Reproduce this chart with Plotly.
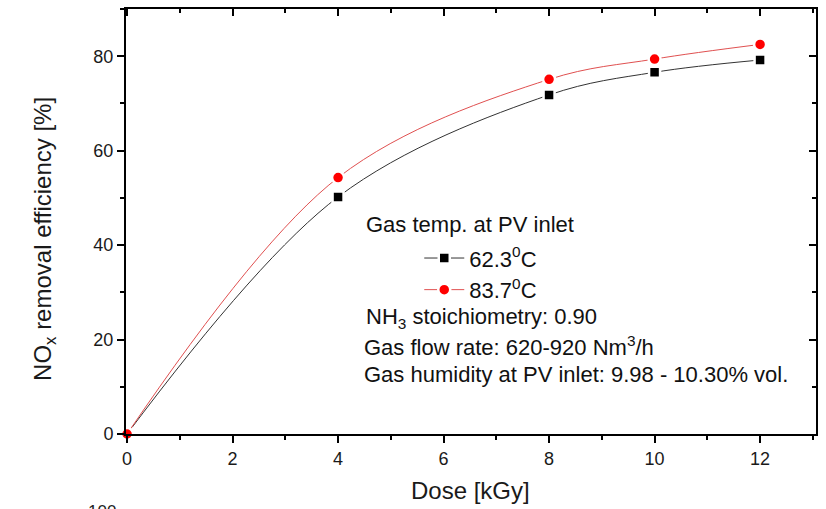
import plotly.graph_objects as go

dose = [0, 4, 8, 10, 12]
eff_62 = [0.0, 50.2, 71.8, 76.6, 79.2]
eff_84 = [0.0, 54.3, 75.1, 79.4, 82.5]
x_ticks = [0, 2, 4, 6, 8, 10, 12]
y_ticks = [0, 20, 40, 60, 80]

FONT = "Liberation Sans, Arial, sans-serif"

fig = go.Figure()
fig.add_trace(go.Scatter(
    x=dose, y=eff_62, mode="lines+markers", name="62.3<sup>0</sup>C",
    line=dict(color="#333333", width=1, shape="spline", smoothing=1.0),
    marker=dict(symbol="square", size=11, color="black", line=dict(color="white", width=2.5)),
    cliponaxis=False, legendgroup="a"))
fig.add_trace(go.Scatter(
    x=dose, y=eff_84, mode="lines+markers", name="83.7<sup>0</sup>C",
    line=dict(color="#e05050", width=1, shape="spline", smoothing=1.0),
    marker=dict(symbol="circle", size=12, color="#ff0000", line=dict(color="white", width=2.5)),
    cliponaxis=False, legendgroup="b"))
# invisible trace to activate the mirror axes (top/right)
fig.add_trace(go.Scatter(x=dose, y=eff_62, xaxis="x2", yaxis="y2", mode="markers",
                         marker=dict(opacity=0), showlegend=False, hoverinfo="skip"))

axis_common = dict(showline=True, linecolor="black", linewidth=2, showgrid=False,
                   zeroline=False, tickcolor="black", tickwidth=2,
                   tickfont=dict(family=FONT, size=18, color="#1a1a1a"))

fig.update_layout(
    width=826, height=509,
    margin=dict(l=126, r=10, t=9, b=75),
    paper_bgcolor="white", plot_bgcolor="white",
    font=dict(family=FONT, color="black"),
    xaxis=dict(range=[-0.02, 13.06], tickvals=x_ticks, ticks="outside", ticklen=7,
               minor=dict(dtick=1, tick0=0, ticks="outside", ticklen=4, tickcolor="black", tickwidth=2),
               **axis_common),
    yaxis=dict(range=[0, 90], tickvals=y_ticks, ticks="outside", ticklen=7,
               minor=dict(dtick=10, tick0=0, ticks="outside", ticklen=4, tickcolor="black", tickwidth=2),
               **axis_common),
    xaxis2=dict(range=[-0.02, 13.06], overlaying="x", side="top", anchor="y2",
                tickvals=x_ticks, ticks="inside", ticklen=7, showticklabels=False,
                minor=dict(dtick=1, tick0=0, ticks="inside", ticklen=4, tickcolor="black", tickwidth=2),
                **axis_common),
    yaxis2=dict(range=[0, 90], overlaying="y", side="right", anchor="x2",
                tickvals=y_ticks, ticks="inside", ticklen=7, showticklabels=False,
                minor=dict(dtick=10, tick0=0, ticks="inside", ticklen=4, tickcolor="black", tickwidth=2),
                **axis_common),
    showlegend=True,
    legend=dict(x=0.425, y=0.463, xanchor="left", yanchor="top",
                bgcolor="rgba(0,0,0,0)", borderwidth=0,
                font=dict(family=FONT, size=22, color="#111"),
                traceorder="grouped", tracegroupgap=0, itemwidth=40),
)

title_font = dict(family=FONT, size=24, color="#1a1a1a")
fig.add_annotation(text="Dose [kGy]", x=0.499, y=-0.132, xref="paper", yref="paper",
                   xanchor="center", yanchor="middle", showarrow=False, font=title_font)
fig.add_annotation(text="NO<sub>x</sub> removal efficiency [%]", x=-0.118, y=0.458,
                   xref="paper", yref="paper", xanchor="center", yanchor="middle",
                   textangle=-90, showarrow=False, font=title_font)

ann_font = dict(family=FONT, size=22, color="#111")
notes = [
    ("Gas temp. at PV inlet", 0.345, 0.494),
    ("NH<sub>3</sub> stoichiometry: 0.90", 0.345, 0.274),
    ("Gas flow rate: 620-920 Nm<sup>3</sup>/h", 0.342, 0.207),
    ("Gas humidity at PV inlet: 9.98 - 10.30% vol.", 0.342, 0.14),
]
for text, x, y in notes:
    fig.add_annotation(text=text, x=x, y=y, xref="paper", yref="paper",
                       xanchor="left", yanchor="middle", showarrow=False, font=ann_font)

fig.add_annotation(text="100", x=-0.012, y=-0.155, xref="paper", yref="paper",
                   xanchor="right", yanchor="top", showarrow=False,
                   font=dict(family=FONT, size=17, color="#222"))

fig.write_html("out.html")
